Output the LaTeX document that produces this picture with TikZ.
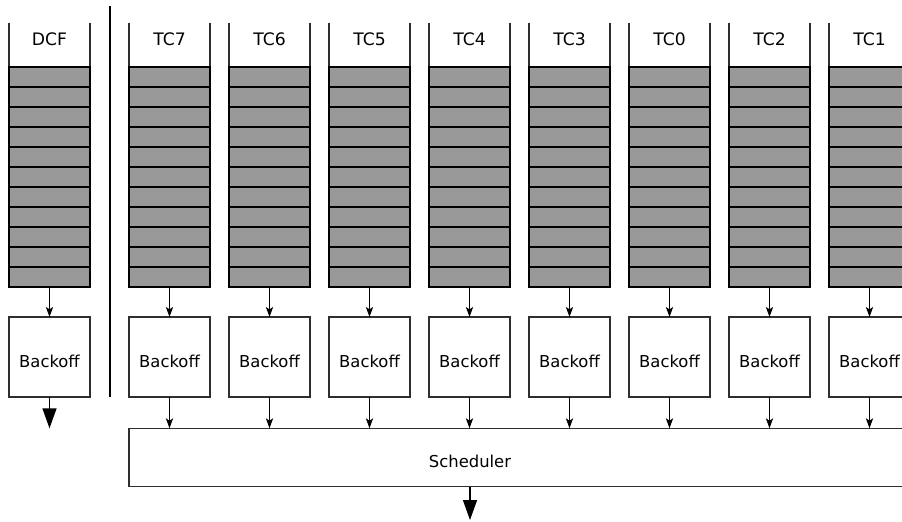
\documentclass[tikz,border=0pt]{standalone}
\usepackage{fontspec}
\setmainfont{DejaVu Sans}
\usetikzlibrary{arrows.meta}
\definecolor{qgray}{HTML}{999999}
\definecolor{lgray}{HTML}{2E2E2E}
\begin{document}
\begin{tikzpicture}[x=0.5pt,y=-0.5pt,
 queue/.style={draw=black,fill=qgray,line width=1pt,minimum width=40.5pt,minimum height=110pt,inner sep=0,outer sep=0},
 box/.style={draw=lgray,line width=0.6pt,fill=white,minimum width=40.5pt,minimum height=40pt,inner sep=0,outer sep=0,font=\fontsize{8.2}{10}\selectfont},
 lbl/.style={font=\fontsize{8.6}{10}\selectfont,inner sep=0},
 hdr/.style={draw=lgray,line width=0.6pt},
 slot/.style={draw=black,line width=1pt},
 arr/.style={draw=black,line width=0.7pt,-{Stealth[length=5pt,width=3.6pt,inset=1.2pt]}},
 bigarr/.style={draw=black,line width=0.7pt,-{Triangle[length=10pt,width=7pt]}}]
\clip (0,0) rectangle (902,521);
% scheduler
\node[draw=lgray,line width=0.6pt,minimum width=435.5pt,minimum height=29.2pt,inner sep=0,outer sep=0] (sch) at (564.5,457.5) {};
\node[lbl,font=\fontsize{8.2}{10}\selectfont] (schl) at (470,461) {Scheduler};
\coordinate (schout) at (470,520);
\draw[bigarr] (schl |- sch.south) -- (schout);
% separator
\coordinate (sepT) at (110,6);
\coordinate (sepB) at (110,396.7);
\draw[hdr,draw=black] (sepT) -- (sepB);
% columns
\foreach \n/\l/\x in {dcf/DCF/49.5, t7/TC7/169.5, t6/TC6/269.5, t5/TC5/369.5, t4/TC4/469.5, t3/TC3/569.5, t0/TC0/669.5, t2/TC2/769.5, t1/TC1/869.5}{
  \node[lbl] (h\n) at (\x,39.5) {\l};
  \draw[hdr] (\x-40.5,22.7) -- (\x-40.5,66.7);
  \draw[hdr] (\x+40.5,22.7) -- (\x+40.5,66.7);
  \node[queue] (q\n) at (\x,176.7) {};
  \foreach \k in {1,...,10}{
    \draw[slot] (\x-40.5,66.7+20*\k) -- (\x+40.5,66.7+20*\k);
  }
  \node[box] (b\n) at (\x,357) {\raisebox{-2.3pt}[\height][0pt]{Backoff}};
  \draw[arr] (q\n.south) -- (b\n.north);
}
\foreach \n in {t7,t6,t5,t4,t3,t0,t2,t1}{
  \draw[arr] (b\n.south) -- (b\n.south |- sch.north);
}
\coordinate (dcfout) at (49.5,428.3);
\draw[bigarr] (bdcf.south) -- (dcfout);
\end{tikzpicture}
\end{document}
